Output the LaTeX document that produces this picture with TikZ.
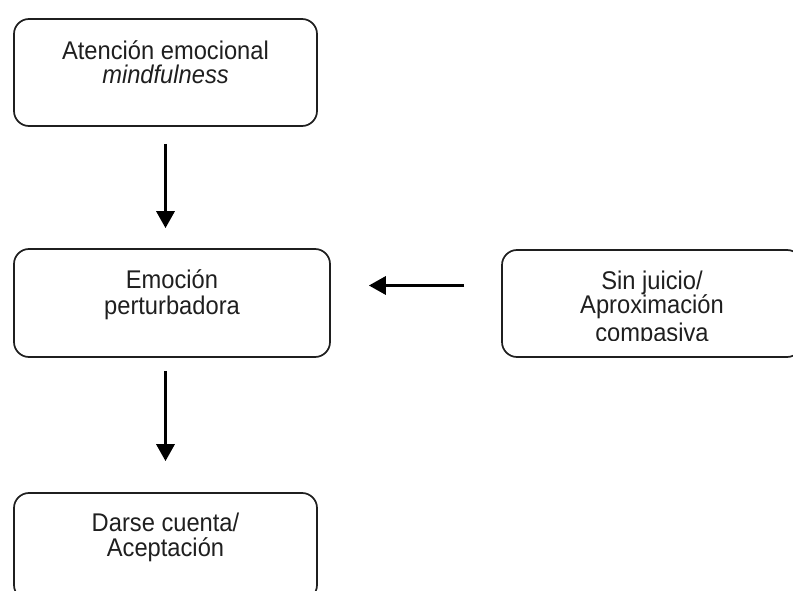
\documentclass[tikz,border=0pt]{standalone}
\usepackage{fontspec}
\usepackage{graphicx}
\setmainfont{Liberation Sans}
\usetikzlibrary{arrows.meta}
\newcommand{\stext}[2]{\scalebox{1}[1.08]{\vtop{\baselineskip=#1\lineskiplimit=-100pt\lineskip=0pt\halign{\hfil##\hfil\cr#2\cr}}}}
\tikzset{
  box/.style={draw=black!88, line width=1.7pt, rounded corners=15pt, inner sep=0pt},
  txt/.style={anchor=base, inner sep=0pt, text=black!88, font=\fontsize{23.7}{20}\selectfont},
  arr/.style={draw=black, line width=3.3pt, -{Triangle[length=17pt,width=18pt]}}
}
\begin{document}
\begin{tikzpicture}[x=1pt,y=-1pt]
\useasboundingbox (0,0) rectangle (793,591);
\clip (0,0) rectangle (793,591);
\fill[white] (0,0) rectangle (793,591);
% boxes
\node[box, minimum width=303pt, minimum height=107pt] (att) at (165.5,72.5) {};
\node[box, minimum width=316pt, minimum height=108pt] (emo) at (172,303) {};
\node[box, minimum width=300pt, minimum height=107pt] (sin) at (652,303.5) {};
\node[box, minimum width=303pt, minimum height=107pt] (bot) at (165.5,546.5) {};
% texts
\node[txt] (attT) at (165.5,60) {\stext{22.2pt}{Atención emocional\cr\textit{mindfulness}}};
\node[txt] (emoT) at (172,288.5) {\stext{24.1pt}{Emoción\cr perturbadora}};
\begin{scope}
\clip (500,240) rectangle (793,340);
\node[txt] (sinT) at (652,289.5) {\stext{22.2pt}{Sin juicio/\cr Aproximación\cr\noalign{\kern4.2pt}compasiva}};
\end{scope}
\node[txt] (botT) at (165.5,531.5) {\stext{23.6pt}{Darse cuenta/\cr Aceptación}};
% arrows
\draw[arr, shorten <=17pt, shorten >=20pt] (att.south) -- (att.south |- emo.north);
\draw[arr, shorten <=13pt, shorten >=31pt] (bot.north |- emo.south) -- (bot.north);
\draw[arr, shorten <=37pt, shorten >=38pt] ([yshift=18pt]sin.west) -- ([yshift=18pt]sin.west -| emo.east);
\end{tikzpicture}
\end{document}
